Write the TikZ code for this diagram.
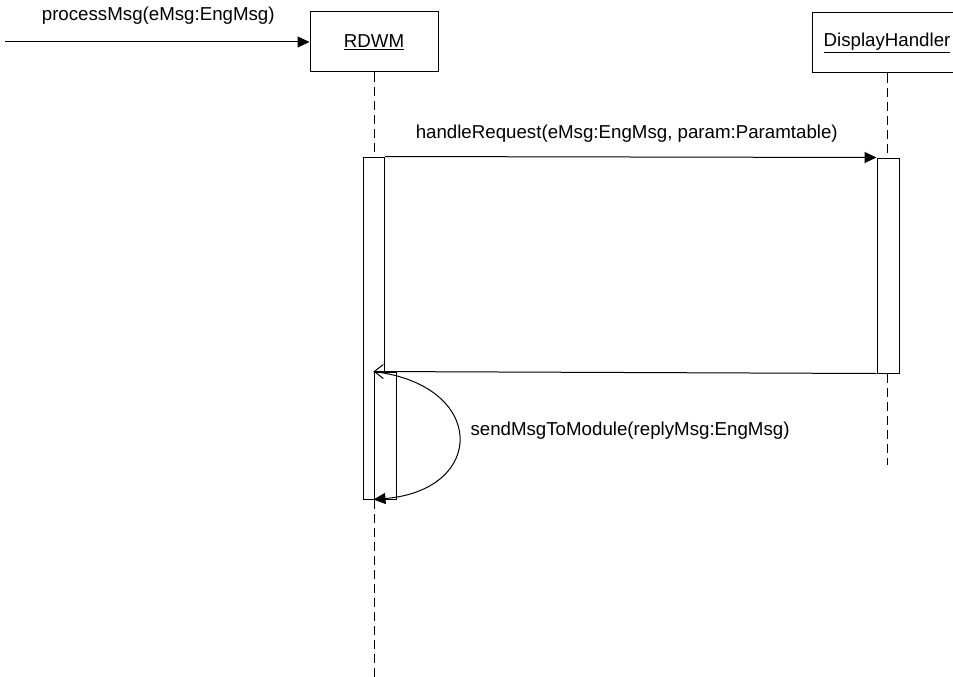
\documentclass[tikz,border=0pt]{standalone}
\usepackage{fontspec}
\setmainfont{Liberation Sans}
\usetikzlibrary{arrows.meta, positioning}

\begin{document}
\begin{tikzpicture}[x=1pt, y=-1pt, line width=1pt, font=\fontsize{18.7}{22}\selectfont]
	\tikzstyle{obj} = [draw, rectangle, minimum height=60pt, inner sep=0pt]
	\tikzstyle{act} = [draw, rectangle, fill=white, inner sep=0pt]
	\tikzstyle{life} = [dash pattern=on 9pt off 5pt]
	\tikzstyle{msg} = [-{Triangle[length=12pt,width=11pt]}]
	\tikzstyle{ret} = [-{Straight Barb[length=9pt,width=14pt]}]
	\tikzstyle{lbl} = [inner sep=0pt]
	
	\useasboundingbox (0,0) rectangle (953,677);
	
	% objects
	\node[obj, minimum width=128pt] (rdwm) at (374,42) {\underline{RDWM}};
	\node[obj, minimum width=150pt] (dh) at (887,43) {\underline{DisplayHandler}};
	
	\coordinate (src) at (5,42);
	\coordinate (rdwmend) at (374,677);
	\coordinate (dhend) at (887,465);
	
	% activations
	\node[act, minimum width=21pt, minimum height=342pt] (bar1) at (374,328) {};
	\node[act, minimum width=22pt, minimum height=127pt] (bar2) at (385,435.5) {};
	\node[act, minimum width=22pt, minimum height=215pt] (dhbar) at (888,265.5) {};
	
	% lifelines
	\draw[life] (rdwm.south) -- (rdwm.south|-bar1.north);
	\draw[life] (rdwm.south|-bar1.south) -- (rdwmend);
	\draw[life] (dh.south) -- (dh.south|-dhbar.north);
	\draw[life] (dh.south|-dhbar.south) -- (dhend);
	
	% messages
	\draw[msg] (src) -- node[lbl, above=17pt, xshift=1pt]{processMsg(eMsg:EngMsg)} (rdwm.west);
	\draw[msg] (bar1.north east) -- node[lbl, above=14pt, xshift=-4pt]{handleRequest(eMsg:EngMsg, param:Paramtable)} (dhbar.north west);
	\draw[ret] (dhbar.south west) -- (bar2.north west);
	\draw[msg] (bar2.north west) .. controls (487,385) and (487,490) .. (bar2.south west);
	\node[lbl, anchor=west] (sendlbl) at (470,431) {sendMsgToModule(replyMsg:EngMsg)};
\end{tikzpicture}
\end{document}
